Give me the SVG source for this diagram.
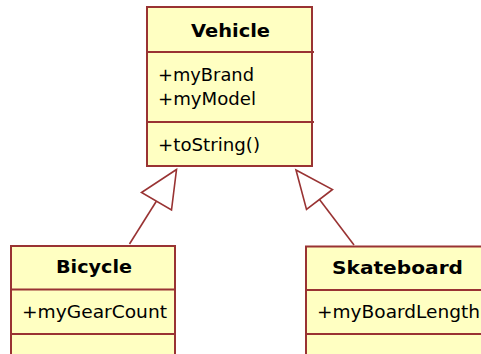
<svg xmlns="http://www.w3.org/2000/svg" width="481" height="354" viewBox="0 0 481 354">
  <style>
    .box { fill: #ffffc2; stroke: #993333; stroke-width: 2; }
    .div { stroke: #993333; stroke-width: 2; fill: none; }
    .name { font-family: "DejaVu Sans", Verdana, sans-serif; font-size: 17px; font-weight: bold; fill: #000; }
    .member { font-family: "DejaVu Sans", Verdana, sans-serif; font-size: 17px; fill: #000; }
    .edge { stroke: #993333; stroke-width: 1.6; fill: none; }
    .head { stroke: #993333; stroke-width: 1.6; fill: #ffffff; stroke-linejoin: miter; }
  </style>
  <rect width="481" height="354" fill="#ffffff"/>

  <!-- generalization connectors -->
  <g id="connectors">
    <line class="edge" x1="129.5" y1="244" x2="156.5" y2="201"/>
    <polygon class="head" points="176.5,169.5 141.5,192.5 171.5,210"/>
    <line class="edge" x1="354" y1="245" x2="319.5" y2="199.5"/>
    <polygon class="head" points="296,170 332.5,189.5 306.5,209.5"/>
  </g>

  <!-- Vehicle class -->
  <g id="vehicle">
    <rect class="box" x="147" y="7" width="165" height="159"/>
    <line class="div" x1="147" y1="52" x2="314" y2="52"/>
    <line class="div" x1="147" y1="122" x2="314" y2="122"/>
    <text class="name" x="191" y="36.5" textLength="79" lengthAdjust="spacingAndGlyphs">Vehicle</text>
    <text class="member" x="158" y="80.5" textLength="96" lengthAdjust="spacingAndGlyphs">+myBrand</text>
    <text class="member" x="158" y="104.5" textLength="98" lengthAdjust="spacingAndGlyphs">+myModel</text>
    <text class="member" x="158" y="151" textLength="102" lengthAdjust="spacingAndGlyphs">+toString()</text>
  </g>

  <!-- Bicycle class -->
  <g id="bicycle">
    <rect class="box" x="11" y="246" width="164" height="120"/>
    <line class="div" x1="11" y1="289.5" x2="175" y2="289.5"/>
    <line class="div" x1="11" y1="334" x2="175" y2="334"/>
    <text class="name" x="56" y="273" textLength="76" lengthAdjust="spacingAndGlyphs">Bicycle</text>
    <text class="member" x="22" y="318" textLength="145" lengthAdjust="spacingAndGlyphs">+myGearCount</text>
  </g>

  <!-- Skateboard class -->
  <g id="skateboard">
    <rect class="box" x="306" y="246.5" width="182" height="120"/>
    <line class="div" x1="306" y1="290" x2="488" y2="290"/>
    <line class="div" x1="306" y1="334" x2="488" y2="334"/>
    <text class="name" x="332" y="274" textLength="131" lengthAdjust="spacingAndGlyphs">Skateboard</text>
    <text class="member" x="317" y="318" textLength="163" lengthAdjust="spacingAndGlyphs">+myBoardLength</text>
  </g>
</svg>
